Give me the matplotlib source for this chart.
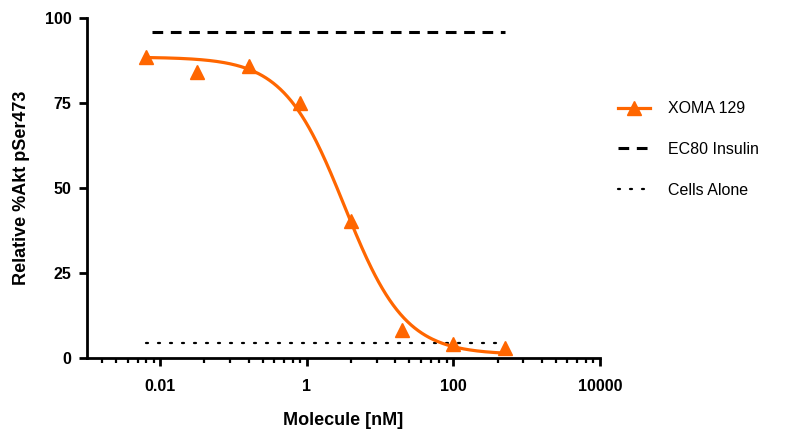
import numpy as np
import matplotlib.pyplot as plt
from matplotlib.ticker import FixedLocator, NullFormatter
from matplotlib.lines import Line2D

plt.rcParams['font.family'] = ['Liberation Sans', 'DejaVu Sans']

# measured points (5-fold dilution series)
conc_nM = [0.0064, 0.032, 0.16, 0.8, 4, 20, 100, 500]
akt_pct = [88.5, 84.1, 85.9, 75.0, 40.3, 8.2, 4.1, 2.9]

# reference lines
ec80_insulin = 96.0
cells_alone = 4.4

# four parameter logistic fit, parameters
fit_top = 88.5
fit_bottom = 1.0
fit_ic50 = 3.25
fit_hill = 1.05

x_ticks = [0.01, 1, 100, 10000]
x_ticklabels = ['0.01', '1', '100', '10000']
y_ticks = [0, 25, 50, 75, 100]

orange = '#ff6600'

fig = plt.figure(figsize=(7.88, 4.29), dpi=100)
ax = fig.add_axes([87 / 788, 71 / 429, 513 / 788, 340 / 429])

xs = np.logspace(np.log10(conc_nM[0]), np.log10(conc_nM[-1]), 300)
fit = fit_bottom + (fit_top - fit_bottom) / (1 + (xs / fit_ic50) ** fit_hill)
ax.plot(xs, fit, color=orange, lw=2.3, zorder=3)
ax.plot(conc_nM, akt_pct, ls='none', marker='^', ms=10, color=orange, mec=orange, zorder=4)

ax.plot([0.0077, conc_nM[-1]], [ec80_insulin] * 2, color='black', lw=2.2,
        ls=(0, (3.5, 2.5)), dash_capstyle='butt')
ax.plot([conc_nM[0], conc_nM[-1]], [cells_alone] * 2, color='black', lw=1.6,
        ls=(0, (0.9, 4.5)), dash_capstyle='round')

ax.set_xscale('log')
ax.set_xlim(0.001, 10000)
ax.set_ylim(0, 100)

# prism style: minor ticks at k^2 within each 2-decade step
minor = []
for m in [0.0001, 0.01, 1, 100]:
    for k in range(2, 10):
        v = m * k * k
        if 0.001 < v < 10000:
            minor.append(v)
ax.xaxis.set_major_locator(FixedLocator(x_ticks))
ax.xaxis.set_minor_locator(FixedLocator(minor))
ax.xaxis.set_minor_formatter(NullFormatter())
ax.set_xticklabels(x_ticklabels)
ax.set_yticks(y_ticks)

for s in ['top', 'right']:
    ax.spines[s].set_visible(False)
for s in ['left', 'bottom']:
    ax.spines[s].set_linewidth(2)
    ax.spines[s].set_capstyle('projecting')

ax.tick_params(axis='both', which='major', length=6, width=2, labelsize=11.5, direction='out')
ax.tick_params(axis='x', which='major', pad=9)
ax.tick_params(axis='y', which='major', pad=5)
ax.tick_params(axis='x', which='minor', length=3.5, width=1.6, direction='out')
for lab in ax.get_xticklabels() + ax.get_yticklabels():
    lab.set_fontweight('bold')

ax.set_xlabel('Molecule [nM]', fontsize=13, fontweight='bold', labelpad=13)
ax.set_ylabel('Relative %Akt pSer473', fontsize=13, fontweight='bold', labelpad=11)

handles = [
    Line2D([], [], color=orange, lw=2.3, marker='^', ms=10),
    Line2D([], [], color='black', lw=2.2, ls=(0, (3.5, 2.5))),
    Line2D([], [], color='black', lw=1.6, ls=(0, (0.9, 4.5)), dash_capstyle='round'),
]
labels = ['XOMA 129', 'EC80 Insulin', 'Cells Alone']
fig.legend(handles, labels, loc='upper left', bbox_to_anchor=(612 / 788, 1 - 95 / 429),
           frameon=False, fontsize=11.5, handlelength=2.0, handletextpad=1.1,
           labelspacing=1.6, borderaxespad=0)

fig.savefig('out.png', dpi=100)
